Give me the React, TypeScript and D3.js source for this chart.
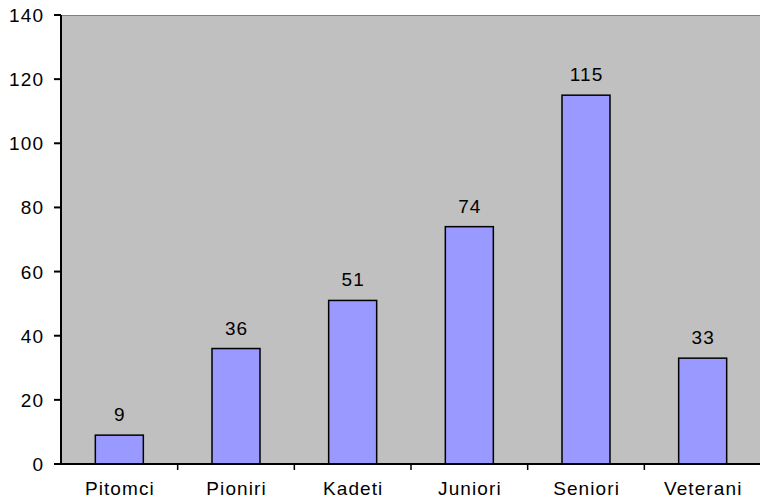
import React from "react";
import * as d3 from "d3";

const categories = ["Pitomci", "Pioniri", "Kadeti", "Juniori", "Seniori", "Veterani"];
const values = [9, 36, 51, 74, 115, 33];
const yTicks = [0, 20, 40, 60, 80, 100, 120, 140];

export default function App() {
  const W = 760, H = 502;
  const left = 61, right = 761, top = 15, bottom = 464;
  const x = d3.scaleBand<string>().domain(categories).range([left, right]).paddingInner(0).paddingOuter(0);
  const y = d3.scaleLinear().domain([0, 140]).range([bottom, top]);
  const bw = 48;
  const font = "'Liberation Sans', Arial, sans-serif";
  const fs = 19;
  const ls = 1.1;
  return (
    <svg width={W} height={H} style={{ position: "absolute", left: 0, top: 0 }} fontFamily={font}>
      <rect x={0} y={0} width={W} height={H} fill="#fff" />
      <rect x={left} y={top} width={right - left} height={bottom - top} fill="#C0C0C0" />
      <line x1={left} x2={right} y1={top + 0.5} y2={top + 0.5} stroke="#808080" strokeWidth={1} />
      {values.map((v, i) => {
        const c = categories[i];
        const cx = (x(c) as number) + x.bandwidth() / 2;
        return (
          <g key={c}>
            <rect x={cx - bw / 2} y={y(v)} width={bw} height={bottom - y(v)} fill="#9999FF" stroke="#000" strokeWidth={1.5} />
            <text x={cx + ls / 2} y={y(v) - 14} textAnchor="middle" fontSize={fs} letterSpacing={ls} fill="#000">{v}</text>
          </g>
        );
      })}
      <line x1={left} x2={left} y1={top} y2={bottom + 1} stroke="#000" strokeWidth={2} />
      <line x1={left - 1} x2={right} y1={bottom} y2={bottom} stroke="#000" strokeWidth={2} />
      {yTicks.map((t) => (
        <g key={t}>
          <line x1={left - 7} x2={left} y1={y(t)} y2={y(t)} stroke="#000" strokeWidth={2} />
          <text x={43 + ls} y={y(t) + 7} textAnchor="end" fontSize={fs} letterSpacing={ls} fill="#000">{t}</text>
        </g>
      ))}
      {categories.map((c, i) => {
        const bx = (x(c) as number) + x.bandwidth();
        return (
          <g key={c}>
            {i < categories.length - 1 && (
              <line x1={bx} x2={bx} y1={bottom} y2={bottom + 6} stroke="#000" strokeWidth={1.5} />
            )}
            <text x={(x(c) as number) + x.bandwidth() / 2 + ls / 2} y={495} textAnchor="middle" fontSize={fs} letterSpacing={ls} fill="#000">{c}</text>
          </g>
        );
      })}
    </svg>
  );
}
